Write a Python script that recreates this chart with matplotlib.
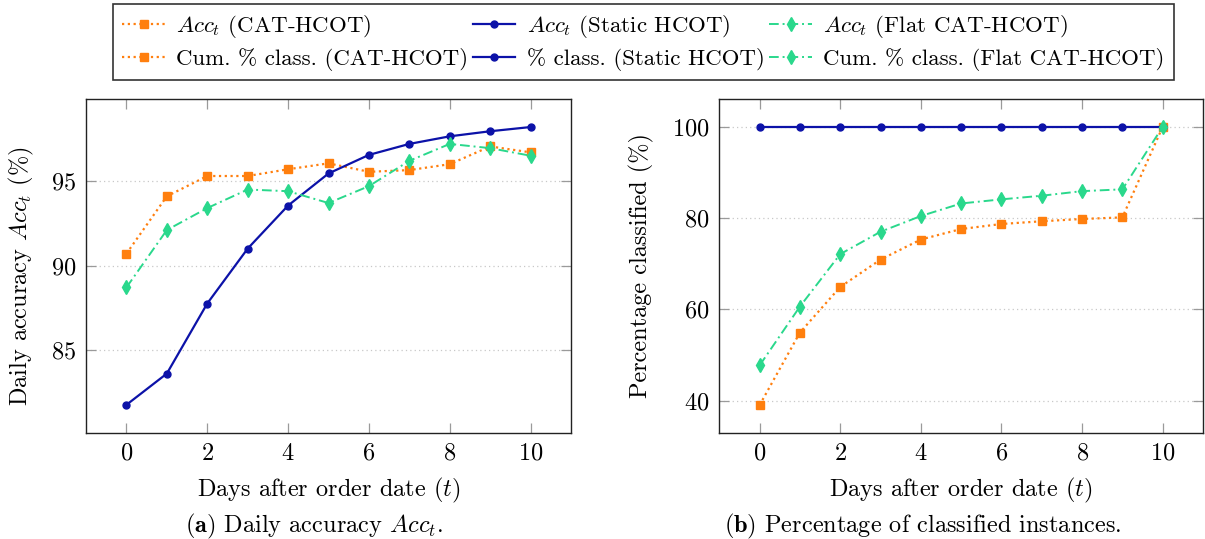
import matplotlib
matplotlib.use("Agg")
import matplotlib.pyplot as plt
from matplotlib.lines import Line2D

# ---- data ----
days = [0, 1, 2, 3, 4, 5, 6, 7, 8, 9, 10]

acc_cat = [90.7, 94.1, 95.3, 95.3, 95.7, 96.05, 95.55, 95.65, 96.0, 97.05, 96.7]
acc_static = [81.75, 83.6, 87.75, 91.0, 93.55, 95.45, 96.55, 97.2, 97.65, 97.95, 98.2]
acc_flat = [88.7, 92.1, 93.4, 94.5, 94.4, 93.7, 94.7, 96.2, 97.2, 96.95, 96.5]

cls_cat = [39.0, 54.9, 64.9, 70.9, 75.3, 77.6, 78.7, 79.3, 79.8, 80.15, 100.0]
cls_static = [100.0, 100.0, 100.0, 100.0, 100.0, 100.0, 100.0, 100.0, 100.0, 100.0, 100.0]
cls_flat = [47.7, 60.6, 72.1, 77.0, 80.45, 83.2, 84.1, 84.9, 85.9, 86.3, 100.0]

xticks = [0, 2, 4, 6, 8, 10]
yticks_left = [85, 90, 95]
yticks_right = [40, 60, 80, 100]

legend_labels = [
    r"$Acc_t$ (CAT-HCOT)",
    r"Cum. % class. (CAT-HCOT)",
    r"$Acc_t$ (Static HCOT)",
    r"% class. (Static HCOT)",
    r"$Acc_t$ (Flat CAT-HCOT)",
    r"Cum. % class. (Flat CAT-HCOT)",
]

# ---- style ----
FS = 17.5
LFS = 16.5
plt.rcParams["font.family"] = ["cmr10", "DejaVu Serif"]
plt.rcParams["mathtext.fontset"] = "cm"
plt.rcParams["axes.formatter.use_mathtext"] = True
plt.rcParams["font.size"] = FS

C_OR = "#ff7f0e"
C_BL = "#0c12a8"
C_GR = "#2ad88c"

sty_cat = dict(color=C_OR, linestyle=(0, (1, 1.6)), linewidth=1.6, marker="s", markersize=6)
sty_static = dict(color=C_BL, linestyle="-", linewidth=1.6, marker="o", markersize=5)
sty_flat = dict(color=C_GR, linestyle=(0, (5, 2, 1, 2)), linewidth=1.4, marker="d", markersize=7.5)

W, H = 1205, 539
fig = plt.figure(figsize=(W / 100, H / 100), dpi=100)

def px_axes(x0, x1, ytop, ybot):
    return fig.add_axes([x0 / W, 1 - ybot / H, (x1 - x0) / W, (ybot - ytop) / H])

ax1 = px_axes(86, 571, 99, 432.7)
ax2 = px_axes(719.3, 1203, 99, 432.7)

for ax in (ax1, ax2):
    ax.set_xlim(-1, 11)
    ax.set_xticks(xticks)
    ax.tick_params(direction="in", length=7, width=0.9, color="#9a9a9a",
                   top=True, right=True, labelsize=FS, pad=7)
    for s in ax.spines.values():
        s.set_linewidth(1.0)
        s.set_color("#222222")
    ax.yaxis.grid(True, linestyle=(0, (1, 2.5)), color="#c8c8c8", linewidth=0.9)
    ax.set_axisbelow(True)
    ax.set_xlabel(r"Days after order date ($t$)", fontsize=FS)
    ax.xaxis.label.set_va("center")
    ax.xaxis.set_label_coords(0.5, -0.172)

# left panel
ax1.plot(days, acc_cat, **sty_cat, zorder=3)
ax1.plot(days, acc_static, **sty_static, zorder=3)
ax1.plot(days, acc_flat, **sty_flat, zorder=3)
ax1.set_ylim(80.1, 99.86)
ax1.set_yticks(yticks_left)
ax1.set_ylabel(r"Daily accuracy $Acc_t$ (%)", fontsize=FS)
ax1.yaxis.label.set_va("center")
ax1.yaxis.set_label_coords(-0.1326, 0.47)

# right panel
ax2.plot(days, cls_cat, **sty_cat, zorder=3)
ax2.plot(days, cls_static, **sty_static, zorder=3)
ax2.plot(days, cls_flat, **sty_flat, zorder=3)
ax2.set_ylim(32.95, 106.1)
ax2.set_yticks(yticks_right)
ax2.set_ylabel(r"Percentage classified (%)", fontsize=FS)
ax2.yaxis.label.set_va("center")
ax2.yaxis.set_label_coords(-0.162, 0.5)

# captions
fig.text(314 / W, 1 - 526 / H, r"$\mathbf{(a)}$ Daily accuracy $Acc_t$.", ha="center", va="center", fontsize=FS)
fig.text(923 / W, 1 - 526 / H, r"$\mathbf{(b)}$ Percentage of classified instances.", ha="center", va="center", fontsize=FS)

# legend
handles = [
    Line2D([], [], **sty_cat), Line2D([], [], **sty_cat),
    Line2D([], [], **sty_static), Line2D([], [], **sty_static),
    Line2D([], [], **sty_flat), Line2D([], [], **sty_flat),
]
leg = fig.legend(handles, legend_labels, ncol=3, loc="center",
                 bbox_to_anchor=((113 + 1174) / 2 / W, 1 - 42 / H),
                 fontsize=LFS, frameon=True, fancybox=False, framealpha=1,
                 edgecolor="#333333", handlelength=1.85, handletextpad=0.5,
                 columnspacing=0.2, borderpad=0.4, labelspacing=0.35,
                 borderaxespad=0)
leg.get_frame().set_linewidth(1.2)

fig.savefig("out.png", dpi=100)
